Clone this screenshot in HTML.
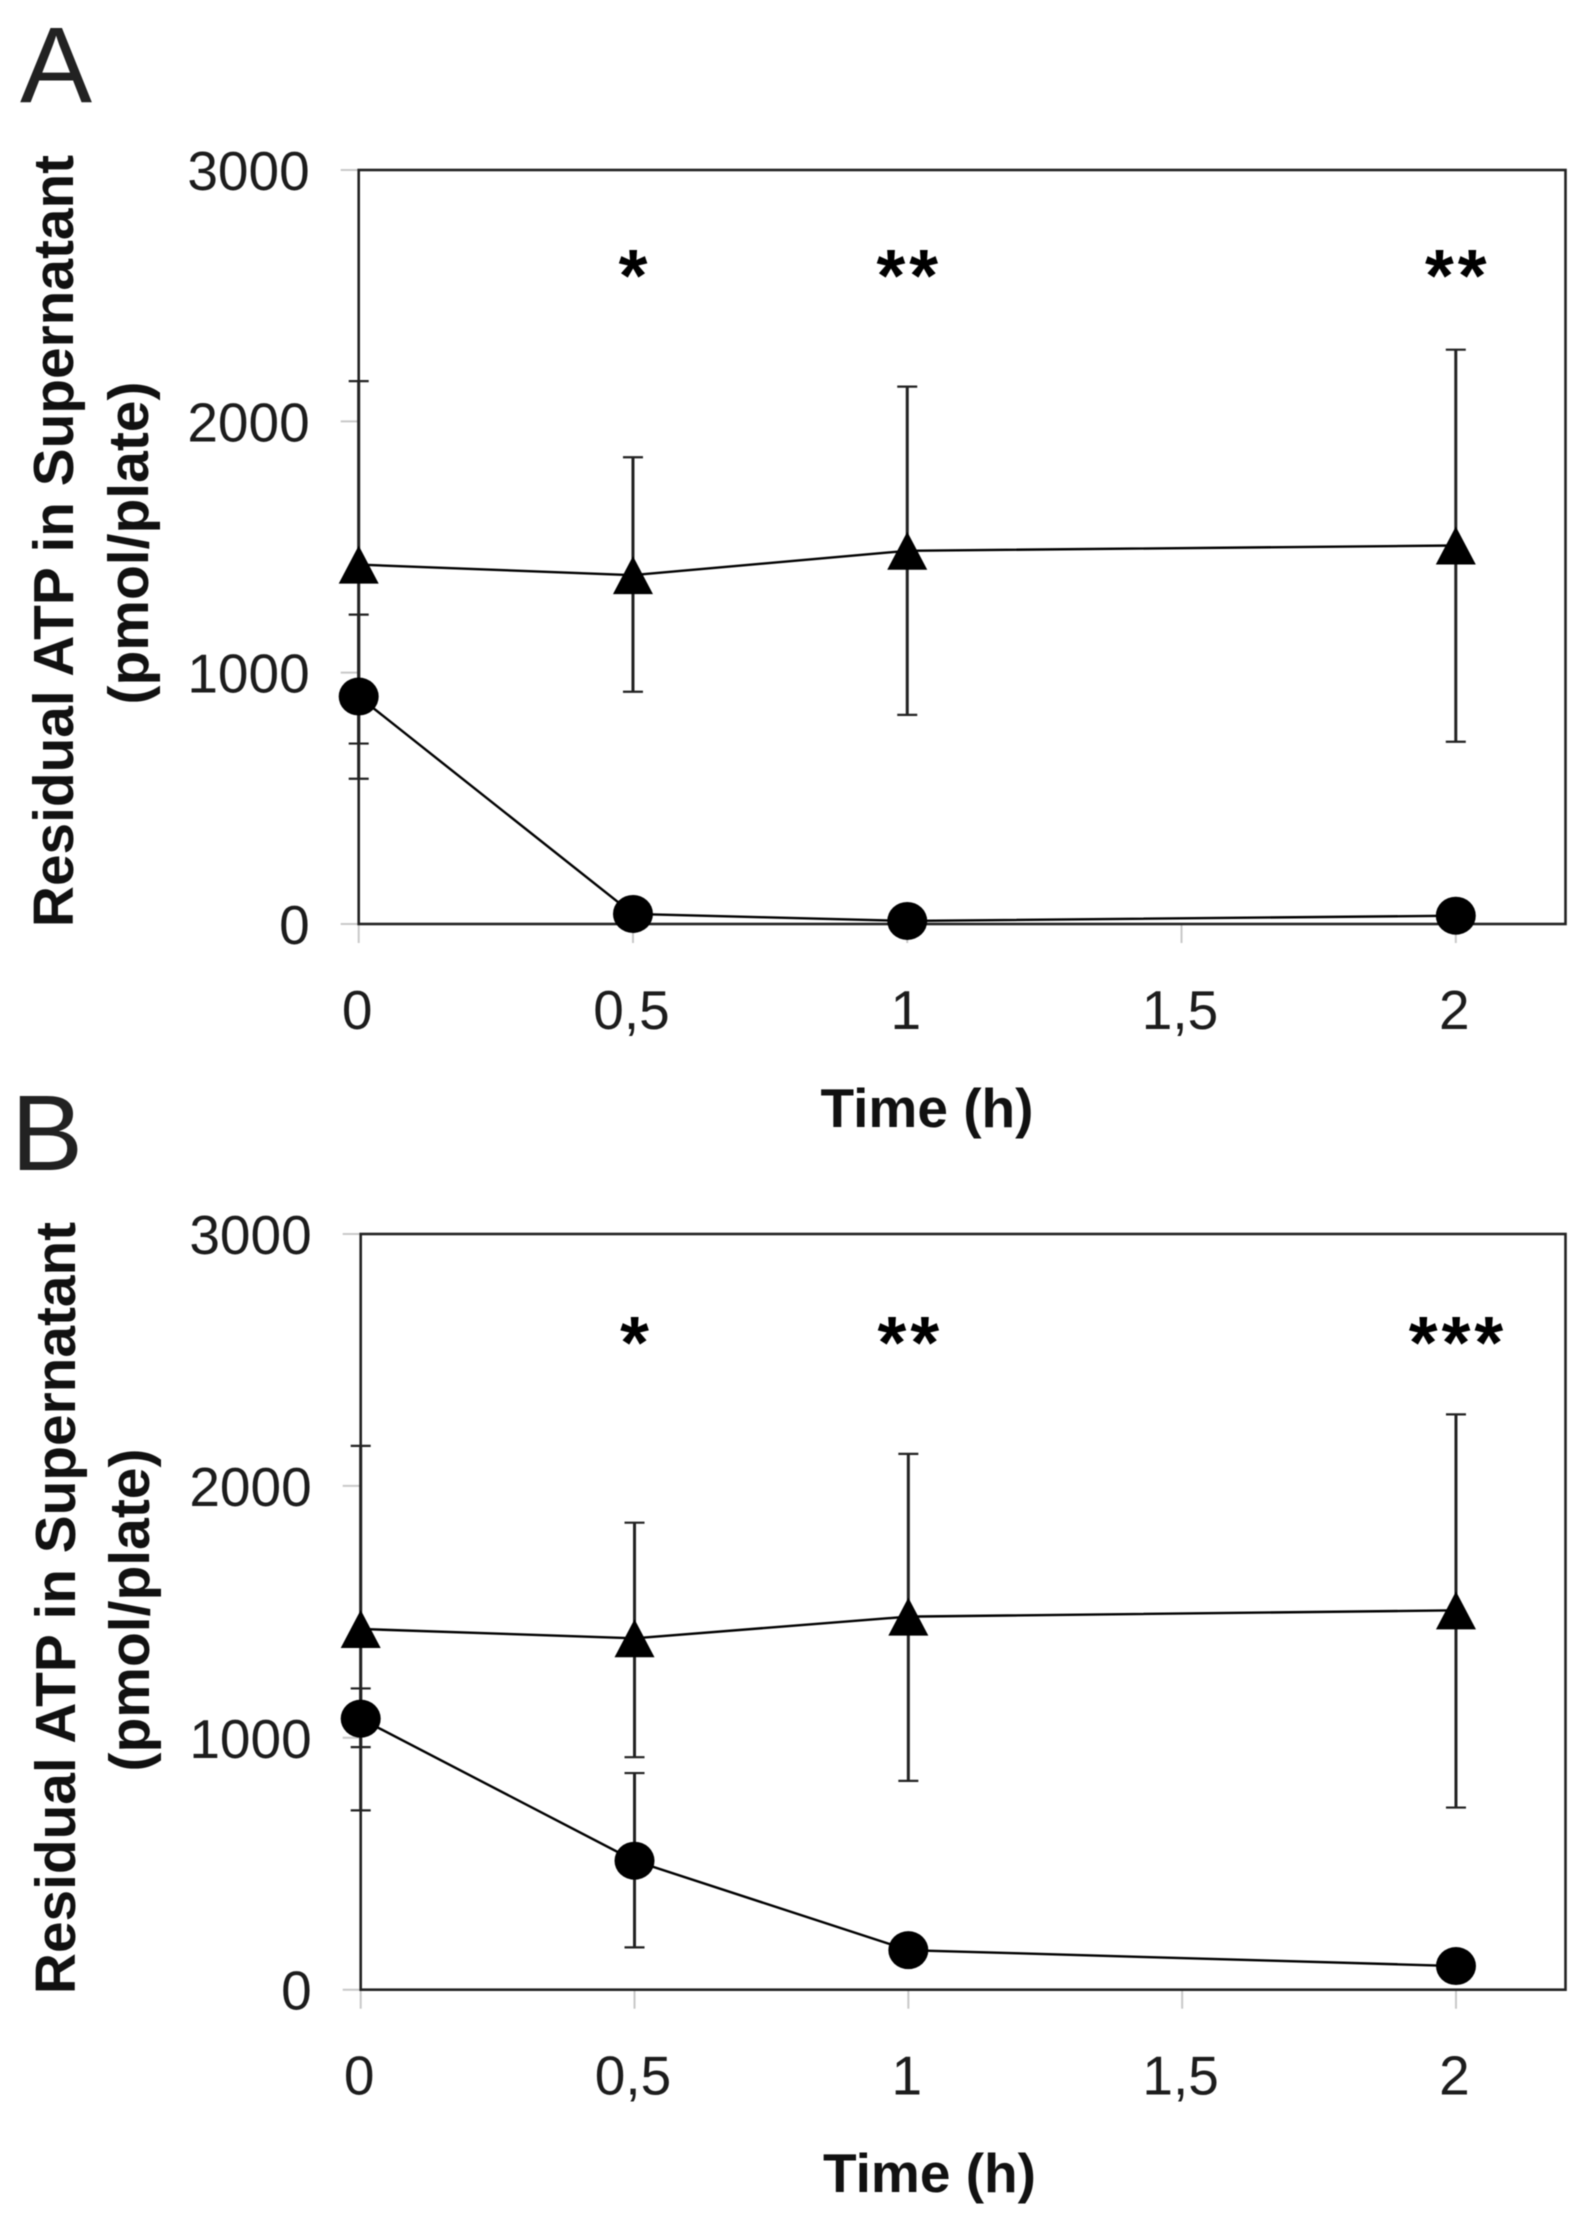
<!DOCTYPE html>
<html lang="en">
<head>
<meta charset="utf-8">
<title>Residual ATP in Supernatant</title>
<style>
html,body{margin:0;padding:0;background:#fff;width:1581px;height:2225px;overflow:hidden}
svg{display:block;filter:blur(0.5px)}
text{font-family:"Liberation Sans",sans-serif;fill:#1c1c1c}
.tick{font-size:55px}
.ytitle{font-size:56.8px;font-weight:bold;fill:#111}
.yunit{font-size:57px;font-weight:bold;fill:#111}
.xtitle{font-size:55px;font-weight:bold;fill:#111}
.letter{font-size:108px;fill:#222}
.sig{font-size:74px;font-weight:bold;letter-spacing:4px;fill:#000}
</style>
</head>
<body>
<svg id="chart" xmlns="http://www.w3.org/2000/svg" width="1581" height="2225" viewBox="0 0 1581 2225">
  <rect x="0" y="0" width="1581" height="2225" fill="#fff"/>
  <g id="panel-a">
    <text class="letter" x="20" y="102">A</text>
    <text class="ytitle" text-anchor="middle" transform="translate(73 541) rotate(-90)">Residual ATP in Supernatant</text>
    <text class="yunit" text-anchor="middle" transform="translate(148 543) rotate(-90)">(pmol/plate)</text>
    <text class="xtitle" text-anchor="middle" x="927" y="1127">Time (h)</text>
  </g>
  <g id="panel-b">
    <text class="letter" x="11" y="1170">B</text>
    <text class="ytitle" text-anchor="middle" transform="translate(75 1608) rotate(-90)">Residual ATP in Supernatant</text>
    <text class="yunit" text-anchor="middle" transform="translate(149 1610) rotate(-90)">(pmol/plate)</text>
    <text class="xtitle" text-anchor="middle" x="929.5" y="2192">Time (h)</text>
  </g>
</svg>
<script>
// Shared axes
var times = [0, 0.5, 1, 2];
var xTicks = [0, 0.5, 1, 1.5, 2];
var xTickLabels = ['0', '0,5', '1', '1,5', '2'];
var yTicks = [0, 1000, 2000, 3000];
var yTickLabels = ['0', '1000', '2000', '3000'];
var xMax = 2.2;
var yMax = 3000;
var sigLevel = 2610;

// Panel A values
var triangleA = [1430, 1388, 1485, 1506];
var triangleUpperA = [2160, 1857, 2138, 2285];
var triangleLowerA = [718, 924, 832, 725];
var circleA = [905, 40, 12, 33];
var circleUpperA = [1231, 60, 20, 50];
var circleLowerA = [578, 20, 4, 15];
var sigLabelsA = ['', '*', '**', '**'];

// Panel B values
var triangleB = [1432, 1395, 1481, 1506];
var triangleUpperB = [2159, 1854, 2127, 2284];
var triangleLowerB = [712, 923, 829, 723];
var circleB = [1076, 512, 157, 94];
var circleUpperB = [1196, 860, 190, 120];
var circleLowerB = [963, 168, 125, 70];
var sigLabelsB = ['', '*', '**', '***'];

var NS = 'http://www.w3.org/2000/svg';

function shape(parent, tag) {
  var el = document.createElementNS(NS, tag);
  parent.appendChild(el);
  return el;
}
function line(parent, x1, y1, x2, y2, color, width) {
  var el = shape(parent, 'line');
  el.setAttribute('x1', x1);
  el.setAttribute('y1', y1);
  el.setAttribute('x2', x2);
  el.setAttribute('y2', y2);
  el.setAttribute('stroke', color);
  el.setAttribute('stroke-width', width);
  return el;
}
function label(parent, cls, x, y, anchor, str) {
  var el = shape(parent, 'text');
  el.setAttribute('class', cls);
  el.setAttribute('x', x);
  el.setAttribute('y', y);
  el.setAttribute('text-anchor', anchor);
  el.textContent = str;
  return el;
}
function polyline(parent, pts) {
  var el = shape(parent, 'polyline');
  el.setAttribute('points', pts.join(' '));
  el.setAttribute('fill', 'none');
  el.setAttribute('stroke', '#000');
  el.setAttribute('stroke-width', 2.4);
  return el;
}
function errorBar(parent, x, yTop, yBottom) {
  var g = shape(parent, 'g');
  line(g, x, yTop, x, yBottom, '#222', 3);
  line(g, x - 10, yTop, x + 10, yTop, '#222', 2.2);
  line(g, x - 10, yBottom, x + 10, yBottom, '#222', 2.2);
  return g;
}

function drawPanel(host, geom, tri, triUp, triLo, cir, cirUp, cirLo, sig) {
  function xS(t) { return geom.x0 + (t / xMax) * (geom.x1 - geom.x0); }
  function yS(v) { return geom.y0 - (v / yMax) * (geom.y0 - geom.y1); }

  xTicks.forEach(function (t, i) {
    var tk = line(host, xS(t), geom.y0, xS(t), geom.y0 + 19, '#c8c8c8', 2);
    
    
    var tl = label(host, 'tick', xS(t) - 1.5, geom.y0 + 105, 'middle', xTickLabels[i]);
    
    
  });
  yTicks.forEach(function (v, i) {
    var tk = line(host, geom.x0 - 18, yS(v), geom.x0, yS(v), '#c8c8c8', 2);
    
    
    var tl = label(host, 'tick', geom.x0 - 49, yS(v) + 20, 'end', yTickLabels[i]);
    
    
  });

  var frame = shape(host, 'rect');
  frame.setAttribute('x', geom.x0);
  frame.setAttribute('y', geom.y1);
  frame.setAttribute('width', geom.x1 - geom.x0);
  frame.setAttribute('height', geom.y0 - geom.y1);
  frame.setAttribute('fill', 'none');
  frame.setAttribute('stroke', '#222');
  frame.setAttribute('stroke-width', 2.6);
  
  

  times.forEach(function (t, i) {
    var e1 = errorBar(host, xS(t), yS(triUp[i]), yS(triLo[i]));
    
    
    var e2 = errorBar(host, xS(t), yS(cirUp[i]), yS(cirLo[i]));
    
    
  });

  var triLine = polyline(host, times.map(function (t, i) { return xS(t) + ',' + yS(tri[i]); }));
  
  
  var cirLine = polyline(host, times.map(function (t, i) { return xS(t) + ',' + yS(cir[i]); }));
  
  

  times.forEach(function (t, i) {
    var px = xS(t);
    var py = yS(tri[i]);
    var m = shape(host, 'polygon');
    m.setAttribute('points', px + ',' + (py - 19) + ' ' + (px + 20) + ',' + (py + 19) + ' ' + (px - 20) + ',' + (py + 19));
    m.setAttribute('fill', '#000');
    
    

    var c = shape(host, 'ellipse');
    c.setAttribute('cx', px);
    c.setAttribute('cy', yS(cir[i]));
    c.setAttribute('rx', 20);
    c.setAttribute('ry', 19);
    c.setAttribute('fill', '#000');
    
    

    if (sig[i]) {
      var s = label(host, 'sig', px + 2, yS(sigLevel) + geom.sigDrop, 'middle', sig[i]);
      
      
    }
  });
}

drawPanel(document.getElementById('panel-a'),
  { x0: 358.7, x1: 1565.5, y0: 924, y1: 170, sigDrop: 33 },
  triangleA, triangleUpperA, triangleLowerA, circleA, circleUpperA, circleLowerA, sigLabelsA);
drawPanel(document.getElementById('panel-b'),
  { x0: 360.7, x1: 1565.5, y0: 1989.7, y1: 1234, sigDrop: 36 },
  triangleB, triangleUpperB, triangleLowerB, circleB, circleUpperB, circleLowerB, sigLabelsB);
</script>
</body>
</html>
